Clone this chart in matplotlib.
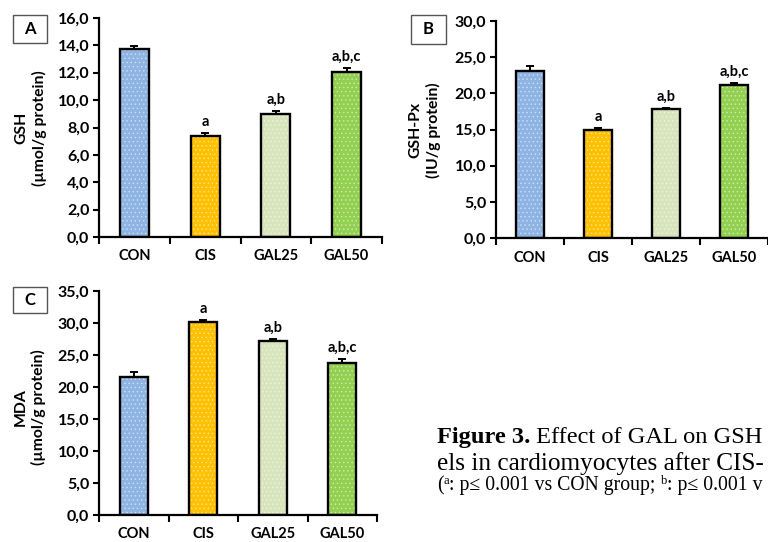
import matplotlib
matplotlib.use("Agg")
import matplotlib.pyplot as plt
from matplotlib.ticker import FuncFormatter, FixedLocator
from matplotlib.patches import Rectangle

# ---------------- data ----------------
groups = ["CON", "CIS", "GAL25", "GAL50"]
colors = ["#8EB4E3", "#FFC000", "#D8E4BC", "#92D050"]

gsh_vals = [13.7, 7.4, 9.0, 12.05]
gsh_err = [0.25, 0.17, 0.22, 0.28]
gsh_sig = ["", "a", "a,b", "a,b,c"]

gpx_vals = [23.1, 14.9, 17.8, 21.15]
gpx_err = [0.7, 0.35, 0.2, 0.3]
gpx_sig = ["", "a", "a,b", "a,b,c"]

mda_vals = [21.6, 30.1, 27.2, 23.8]
mda_err = [0.75, 0.3, 0.35, 0.65]
mda_sig = ["", "a", "a,b", "a,b,c"]

W, H = 768, 542
fig = plt.figure(figsize=(W / 100, H / 100), dpi=100)

SANS = ["Lato", "DejaVu Sans"]
SERIF = ["Liberation Serif", "DejaVu Serif"]
plt.rcParams["hatch.linewidth"] = 0.6


def px(x0, y0, x1, y1):
    # pixel box -> figure fraction [left, bottom, width, height]
    return [x0 / W, 1 - y1 / H, (x1 - x0) / W, (y1 - y0) / H]


def panel(rect, vals, errs, sigs, ymax, ystep, ylab1, ylab2, lab_xy, letter, box):
    ax = fig.add_axes(rect)
    x = list(range(len(groups)))
    ax.bar(x, vals, width=0.41, color=colors, edgecolor=(1, 1, 1, 0.45),
           linewidth=0, hatch="....", zorder=2)
    ax.bar(x, vals, width=0.41, fill=False, edgecolor="black", linewidth=1.7,
           zorder=3)
    ax.errorbar(x, vals, yerr=[[0] * len(vals), errs], fmt="none",
                ecolor="black", elinewidth=1.4, capsize=3, capthick=1.4,
                zorder=4)
    for xi, v, e, s in zip(x, vals, errs, sigs):
        if s:
            ax.annotate(s, (xi, v + e), xytext=(0, 3), textcoords="offset points",
                        ha="center", va="bottom", fontsize=10.5,
                        fontweight="bold", family=SANS)
    ax.set_xlim(-0.5, len(groups) - 0.5)
    ax.set_ylim(0, ymax)
    yt = [i * ystep for i in range(int(round(ymax / ystep)) + 1)]
    ax.set_yticks(yt)
    ax.yaxis.set_major_formatter(FuncFormatter(lambda v, p: f"{v:.1f}".replace(".", ",")))
    ax.set_xticks(x)
    ax.set_xticklabels(groups)
    ax.xaxis.set_minor_locator(FixedLocator([i - 0.5 for i in range(len(groups) + 1)]))
    ax.tick_params(axis="x", which="major", length=0, pad=9)
    ax.tick_params(axis="x", which="minor", length=5, width=1.5, direction="out")
    ax.tick_params(axis="y", length=4, width=1.5, direction="out", pad=3)
    for lbl in ax.get_xticklabels():
        lbl.set_family(SANS)
        lbl.set_fontweight("bold")
        lbl.set_fontsize(10.5)
    for lbl in ax.get_yticklabels():
        lbl.set_family(SANS)
        lbl.set_fontweight("bold")
        lbl.set_fontsize(11.5)
    for s in ["top", "right"]:
        ax.spines[s].set_visible(False)
    for s in ["left", "bottom"]:
        ax.spines[s].set_linewidth(1.6)
    # y label (two lines)
    fig.text(lab_xy[0] / W, 1 - lab_xy[1] / H, ylab1 + "\n" + ylab2,
             rotation=90, ha="center", va="center", fontsize=11.3,
             fontweight="bold", family=SANS, linespacing=1.3,
             multialignment="center")
    # panel letter box
    bx0, by0, bx1, by1 = box
    fig.patches.append(Rectangle((bx0 / W, 1 - by1 / H), (bx1 - bx0) / W,
                                 (by1 - by0) / H, transform=fig.transFigure,
                                 facecolor="white", edgecolor="#555555",
                                 linewidth=1.0))
    fig.text((bx0 + bx1) / 2 / W, 1 - (by0 + by1) / 2 / H, letter,
             ha="center", va="center", fontsize=12, fontweight="bold",
             family=SANS)
    return ax


panel(px(99, 18, 382, 237), gsh_vals, gsh_err, gsh_sig, 16, 2,
      "GSH", "(µmol/g protein)", (31, 128), "A", (13, 15, 47, 43))
panel(px(496, 21, 768, 238), gpx_vals, gpx_err, gpx_sig, 30, 5,
      "GSH-Px", "(IU/g protein)", (425, 130), "B", (411, 15, 446, 44))
panel(px(99, 291, 377, 515), mda_vals, mda_err, mda_sig, 35, 5,
      "MDA", "(µmol/g protein)", (30, 407), "C", (13, 287, 47, 313))

# ---------------- caption (pieces laid left to right) ----------------
fig.canvas.draw()
r = fig.canvas.get_renderer()


def run(pieces, x0, y_base):
    x = x0
    for txt, size, weight, rise in pieces:
        t = fig.text(x / W, 1 - (y_base - rise) / H, txt, fontsize=size,
                     fontweight=weight, family=SERIF, ha="left", va="baseline")
        bb = t.get_window_extent(r)
        x = bb.x1


run([("Figure 3.", 17.6, "bold", 0), (" Effect of GAL on GSH", 17.6, "normal", 0)],
    437, 443)
run([("els in cardiomyocytes after CIS-", 18.2, "normal", 0)], 437, 470)
run([("(", 14.2, "normal", 0), ("a", 9, "normal", 6),
     (": p≤ 0.001 vs CON group; ", 14.2, "normal", 0), ("b", 9, "normal", 6),
     (": p≤ 0.001 v", 14.2, "normal", 0)], 437, 490)

fig.savefig("out.png", dpi=100)
